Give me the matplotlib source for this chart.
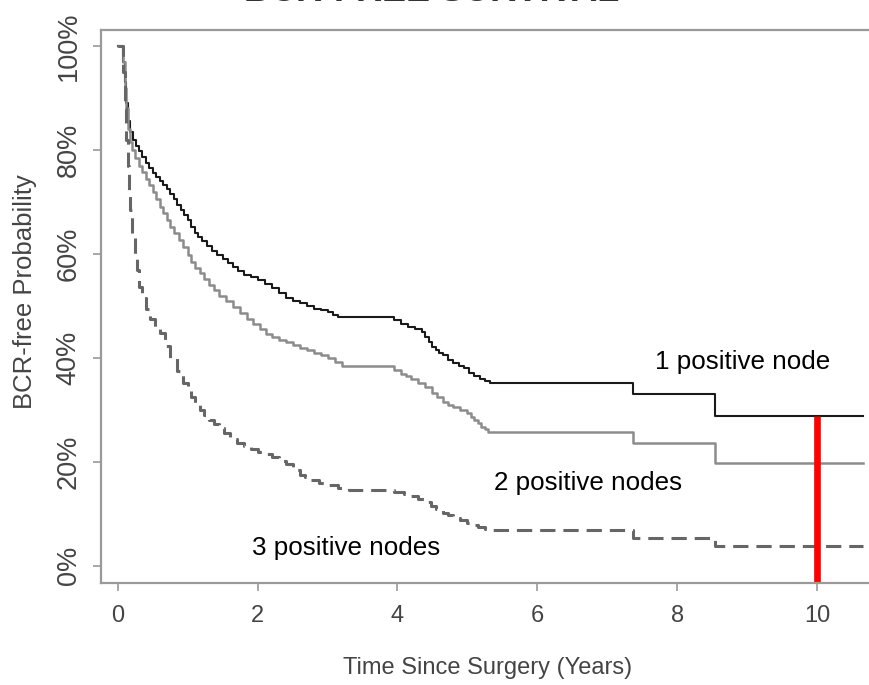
import matplotlib
matplotlib.use("Agg")
import matplotlib.pyplot as plt
from matplotlib import font_manager

# survival curves (time in years, BCR-free %)
t1 = [0, 0.08, 0.1, 0.12, 0.15, 0.18, 0.22, 0.26, 0.3, 0.35, 0.4, 0.45, 0.5, 0.55,
      0.6, 0.65, 0.7, 0.75, 0.8, 0.85, 0.9, 0.95, 1.0, 1.05, 1.1, 1.15, 1.2, 1.28,
      1.35, 1.42, 1.5, 1.58, 1.65, 1.72, 1.8, 1.9, 2.0, 2.1, 2.2, 2.3, 2.4, 2.5,
      2.6, 2.7, 2.8, 2.9, 3.0, 3.08, 3.15, 3.95, 4.05, 4.15, 4.25, 4.35, 4.4, 4.45,
      4.5, 4.55, 4.6, 4.65, 4.72, 4.8, 4.88, 4.95, 5.02, 5.1, 5.18, 5.25, 5.32,
      7.37, 8.54, 10.65]
s1 = [100, 97, 93, 89, 85.5, 83.5, 82, 80.8, 79.8, 78.6, 77.5, 76.5, 75.5, 74.8,
      74, 73.3, 72.5, 71.5, 70.5, 69.5, 68.5, 67.5, 66.5, 65.2, 64, 63.2, 62.5, 61.5,
      60.5, 59.8, 59, 58.2, 57.5, 56.8, 56, 55.5, 55, 54.2, 53.5, 52.5, 51.5, 51,
      50.5, 50, 49.5, 49.2, 48.8, 48.3, 47.8, 47.3, 46.6, 46, 45.5, 45, 44, 43,
      42.2, 41.5, 41, 40.5, 39.7, 39, 38.5, 38, 37.2, 36.5, 36, 35.5, 35.2,
      33, 28.8, 28.8]

t2 = [0, 0.08, 0.1, 0.12, 0.15, 0.18, 0.2, 0.25, 0.3, 0.35, 0.4, 0.45, 0.5, 0.55,
      0.6, 0.65, 0.7, 0.75, 0.8, 0.87, 0.93, 1.0, 1.05, 1.11, 1.17, 1.23, 1.3, 1.37,
      1.45, 1.55, 1.65, 1.75, 1.85, 1.94, 2.03, 2.12, 2.2, 2.3, 2.4, 2.5, 2.6, 2.7,
      2.8, 2.9, 3.0, 3.1, 3.2, 3.95, 4.05, 4.12, 4.2, 4.3, 4.4, 4.5, 4.57, 4.65,
      4.72, 4.8, 4.9, 5.0, 5.05, 5.1, 5.15, 5.2, 5.25, 5.3, 7.37, 8.54, 10.65]
s2 = [100, 97, 92, 88, 84, 81.5, 80, 78.5, 77, 75.8, 74.5, 73.2, 72, 70.5,
      69, 67.8, 66.5, 65.2, 64, 62.6, 61.3, 59.8, 58.5, 57.4, 56.3, 55.1, 54, 53,
      52, 50.9, 49.8, 48.6, 47.5, 46.5, 45.5, 44.7, 44, 43.5, 43, 42.5, 42, 41.5,
      41, 40.5, 40, 39.2, 38.5, 37.6, 37, 36.5, 36, 35.2, 34.5, 33.3, 32.4, 31.5,
      31, 30.5, 30, 29.4, 28.7, 28, 27.4, 26.8, 26.3, 25.8, 23.7, 19.8, 19.8]

t3 = [0, 0.08, 0.1, 0.12, 0.14, 0.16, 0.18, 0.21, 0.24, 0.27, 0.31, 0.35, 0.4,
      0.46, 0.53, 0.6, 0.67, 0.75, 0.84, 0.93, 1.0, 1.05, 1.11, 1.17, 1.23, 1.3,
      1.38, 1.45, 1.52, 1.6, 1.7, 1.8, 1.9, 2.0, 2.1, 2.2, 2.3, 2.4, 2.5, 2.6,
      2.68, 2.75, 2.88, 3.0, 3.15, 3.3, 3.95, 4.1, 4.2, 4.3, 4.4, 4.48, 4.55,
      4.65, 4.72, 4.8, 4.9, 5.0, 5.08, 5.15, 5.25, 5.32, 7.37, 8.54, 10.65]
s3 = [100, 95, 88, 82, 77, 72, 68.5, 63.3, 60, 57, 53.7, 51.5, 49.5,
      47.5, 46, 44.8, 42.3, 40, 37.5, 35.2, 33.8, 32.5, 31.2, 30, 29, 28,
      27.2, 26.5, 25.5, 24.5, 23.7, 23, 22.4, 22, 21.5, 21, 20.2, 19.5, 18.5, 17.5,
      17, 16.5, 16, 15.5, 15, 14.6, 14.2, 13.8, 13.5, 12.9, 12.3, 11.6, 11,
      10.2, 9.7, 9.3, 8.8, 8.3, 7.9, 7.5, 7.1, 6.9, 5.4, 3.8, 3.8]

labels = ["1 positive node", "2 positive nodes", "3 positive nodes"]
label_pos = [(8.93, 37.9), (6.72, 14.6), (3.26, 2.1)]

marker_year = 10
marker_top = 28.8

x_ticks = [0, 2, 4, 6, 8, 10]
y_ticks = [0, 20, 40, 60, 80, 100]

names = {f.name for f in font_manager.fontManager.ttflist}
base_font = "Liberation Sans" if "Liberation Sans" in names else "DejaVu Sans"
narrow_font = "Liberation Sans Narrow" if "Liberation Sans Narrow" in names else base_font
plt.rcParams["font.family"] = base_font

W, H = 869, 685
fig = plt.figure(figsize=(W / 100, H / 100), dpi=100)
left, right, top, bottom = 101, 880, 30, 583
ax = fig.add_axes([left / W, 1 - bottom / H, (right - left) / W, (bottom - top) / H])

ax.step(t1, s1, where="post", color="#1a1a1a", lw=1.5)
ax.step(t2, s2, where="post", color="#8c8c8c", lw=1.8)
ax.step(t3, s3, where="post", color="#666666", lw=2.2, dashes=(5, 2.6))

ymin, ymax = -3.3, 103.1
ax.set_xlim(-0.24, 10.9)
ax.set_ylim(ymin, ymax)

# red marker at 10 years
ax.plot([marker_year, marker_year], [ymin, marker_top], color="#ff0000", lw=4.8,
        solid_capstyle="butt")

for txt, (x, y) in zip(labels, label_pos):
    ax.text(x, y, txt, ha="center", va="baseline", fontsize=18.7, color="black")

for sp in ax.spines.values():
    sp.set_color("#9a9a9a")
    sp.set_linewidth(1.6)

ax.set_xticks(x_ticks)
ax.set_xticklabels([str(v) for v in x_ticks], fontname=narrow_font)
ax.set_yticks(y_ticks)
ax.set_yticklabels([f"{v}%" for v in y_ticks], rotation=90, va="center",
                   fontname=base_font, fontsize=19.5)
ax.tick_params(axis="both", colors="#9a9a9a", length=6, width=1.2,
               labelcolor="#444444")
ax.tick_params(axis="x", pad=10, labelsize=17)
ax.tick_params(axis="y", pad=8)

fig.text(25 / W, 1 - 292 / H, "BCR-free Probability", rotation=90,
         ha="center", va="center", fontsize=18.5, color="#444444")
fig.text(488 / W, 1 - 668 / H, "Time Since Surgery (Years)",
         ha="center", va="center", fontsize=17, color="#444444",
         fontname=narrow_font)

# title sits mostly above the visible area, as in the source image
fig.text(432 / W, 1 - 1 / H, "BCR-FREE SURVIVAL", ha="center", va="baseline",
         fontsize=26, fontweight="bold", color="#333333")

fig.savefig("out.png", dpi=100)
